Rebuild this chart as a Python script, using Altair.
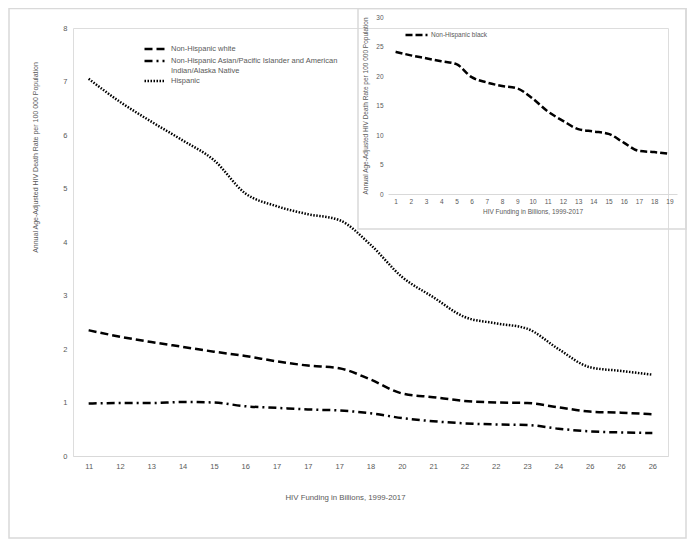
import altair as alt
import pandas as pd

# ---------------- data ----------------
x_labels = ["11", "12", "13", "14", "15", "16", "17", "17", "17", "18",
            "20", "21", "22", "22", "23", "24", "26", "26", "26"]
idx = list(range(1, 20))

white = [2.35, 2.23, 2.13, 2.04, 1.95, 1.87, 1.77, 1.69, 1.64, 1.43,
         1.17, 1.10, 1.03, 1.00, 0.99, 0.91, 0.83, 0.81, 0.78]
asian = [0.98, 0.99, 0.99, 1.01, 1.00, 0.93, 0.90, 0.87, 0.85, 0.80,
         0.71, 0.65, 0.61, 0.59, 0.58, 0.51, 0.46, 0.44, 0.43]
hispanic = [7.05, 6.62, 6.25, 5.90, 5.53, 4.91, 4.67, 4.52, 4.41, 3.95,
            3.35, 2.97, 2.60, 2.48, 2.38, 2.00, 1.66, 1.59, 1.52]
black = [24.1, 23.5, 23.0, 22.5, 22.0, 19.8, 18.9, 18.3, 17.9, 16.2,
         14.0, 12.4, 11.0, 10.6, 10.2, 8.7, 7.3, 7.1, 6.8]

s_white = "Non-Hispanic white"
s_asian = "Non-Hispanic Asian/Pacific Islander and American Indian/Alaska Native"
s_hisp = "Hispanic"
s_black = "Non-Hispanic black"
series_main = [s_white, s_asian, s_hisp]

y_title = "Annual Age-Adjusted HIV Death Rate per 100 000 Population"
x_title = "HIV Funding in Billions, 1999-2017"

main_df = pd.DataFrame({
    "i": idx * 3,
    "value": white + asian + hispanic,
    "series": [s_white] * 19 + [s_asian] * 19 + [s_hisp] * 19,
})
inset_df = pd.DataFrame({"i": idx, "value": black, "series": [s_black] * 19})
one = pd.DataFrame({"a": [0]})

GRAY = "#595959"
LIGHT = "#d9d9d9"
FONT = "Liberation Sans"

label_expr = "[" + ",".join(f"'{l}'" for l in x_labels) + "][datum.value-1]"
legend_expr = (f"datum.label == '{s_asian}' ? "
               "['Non-Hispanic Asian/Pacific Islander and American', 'Indian/Alaska Native'] : datum.label")

W, H = 595, 428

# outer light frame
frame = alt.Chart(one).mark_rect(fillOpacity=0, stroke=LIGHT, strokeWidth=1.5).encode(
    x=alt.value(-64), x2=alt.value(W + 18), y=alt.value(-19.5), y2=alt.value(H + 82)
)

main = alt.Chart(main_df).mark_line(color="black", strokeWidth=2.5, interpolate="monotone").encode(
    x=alt.X("i:Q",
            scale=alt.Scale(domain=[0.5, 19.5], nice=False, zero=False),
            axis=alt.Axis(values=idx, labelExpr=label_expr, title=x_title, ticks=False, grid=False,
                          domainColor=LIGHT, domainWidth=1, labelColor=GRAY, labelFontSize=7.5,
                          labelFont=FONT, labelPadding=6, titleColor=GRAY, titleFont=FONT,
                          titleFontSize=7.8, titleFontWeight="normal", titleX=272, titleY=41,
                          titleBaseline="middle", zindex=1)),
    y=alt.Y("value:Q",
            scale=alt.Scale(domain=[0, 8], nice=False),
            axis=alt.Axis(values=list(range(0, 9)), domain=False, ticks=False, grid=False,
                          labelColor=GRAY, labelFontSize=7.5, labelFont=FONT, labelPadding=6,
                          title=y_title, titleColor=GRAY, titleFont=FONT, titleFontSize=7,
                          titleFontWeight="normal", titleX=-38, titleY=129, titleBaseline="middle",
                          zindex=1)),
    strokeDash=alt.StrokeDash("series:N",
                              scale=alt.Scale(domain=series_main,
                                              range=[[8, 4], [8, 4, 2, 4], [1.5, 1.5]]),
                              legend=alt.Legend(orient="none", legendX=70, legendY=16, title=None,
                                                symbolType="stroke", symbolStrokeWidth=2.5,
                                                symbolSize=400, symbolStrokeColor="black",
                                                clipHeight=10,
                                                labelFontSize=7.5, labelFont=FONT, labelColor=GRAY,
                                                labelLimit=400, labelExpr=legend_expr,
                                                rowPadding=2, labelOffset=5)),
)

inset_bg = alt.Chart(one).mark_rect(fillOpacity=0, stroke=LIGHT, strokeWidth=1.5).encode(
    x=alt.value(285), x2=alt.value(W + 18), y=alt.value(-19.5), y2=alt.value(201)
)

inset = alt.Chart(inset_df).mark_line(color="black", strokeWidth=2.5, interpolate="monotone").encode(
    x=alt.X("i:Q",
            scale=alt.Scale(domain=[0.5, 19.5], range=[315, 604], nice=False, zero=False),
            axis=alt.Axis(orient="bottom", offset=-262, values=idx, title=x_title, ticks=False,
                          grid=False, domainColor=LIGHT, labelColor=GRAY, labelFontSize=6.5,
                          labelFont=FONT, labelPadding=4, titleColor=GRAY, titleFont=FONT,
                          titleFontSize=6.5, titleFontWeight="normal", titleY=17,
                          titleBaseline="middle", zindex=1)),
    y=alt.Y("value:Q",
            scale=alt.Scale(domain=[0, 30], range=[166, -11], nice=False),
            axis=alt.Axis(orient="left", offset=-315, values=list(range(0, 31, 5)), domain=False,
                          ticks=False, grid=False, labelColor=GRAY, labelFontSize=6.5,
                          labelFont=FONT, labelPadding=5, title=y_title, titleColor=GRAY,
                          titleFont=FONT, titleFontSize=6.5, titleFontWeight="normal",
                          titleX=-23, titleY=77.5, titleBaseline="middle", zindex=1)),
    strokeDash=alt.StrokeDash("series:N",
                              scale=alt.Scale(domain=[s_black], range=[[7, 3]]),
                              legend=alt.Legend(orient="none", legendX=331, legendY=2, title=None,
                                                symbolType="stroke", symbolStrokeWidth=2.5,
                                                symbolSize=484, symbolStrokeColor="black",
                                                clipHeight=10,
                                                labelFontSize=6.5, labelFont=FONT, labelColor=GRAY,
                                                labelOffset=2)),
)

chart = alt.layer(frame, main, inset_bg, inset).resolve_scale(
    x="independent", y="independent", strokeDash="independent"
).resolve_legend(strokeDash="independent").properties(
    width=W, height=H,
    autosize=alt.AutoSizeParams(type="none"),
    padding={"left": 65, "top": 20, "right": 19, "bottom": 84},
).configure_view(stroke=None).configure(background="white")

chart.save("out.html", embed_options={"renderer": "svg", "actions": False})
